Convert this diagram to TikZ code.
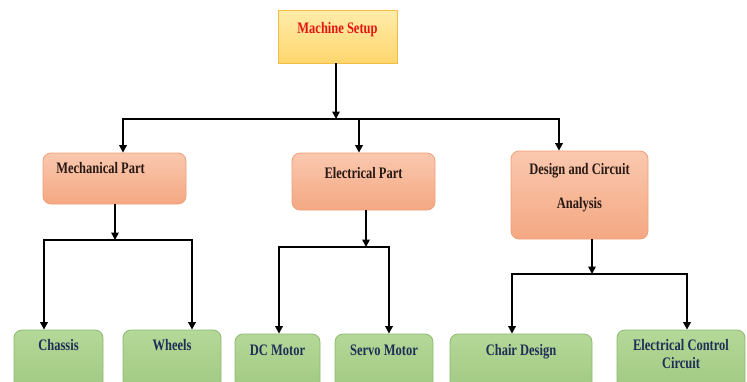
\documentclass[tikz,border=0pt]{standalone}
\usepackage{fontspec}
\setmainfont{Liberation Serif}[FakeStretch=0.78]
\usepackage{tikz}
\usetikzlibrary{arrows.meta,positioning,calc}
\definecolor{SetupTop}{RGB}{255,236,170}
\definecolor{SetupBot}{RGB}{255,214,110}
\definecolor{SetupEdge}{RGB}{240,190,70}
\definecolor{SetupRed}{RGB}{230,20,20}
\definecolor{PartTop}{RGB}{250,200,175}
\definecolor{PartBot}{RGB}{244,168,130}
\definecolor{PartEdge}{RGB}{240,160,120}
\definecolor{PartText}{RGB}{40,25,20}
\definecolor{LeafTop}{RGB}{180,216,152}
\definecolor{LeafBot}{RGB}{160,200,128}
\definecolor{LeafEdge}{RGB}{140,185,110}
\definecolor{LeafText}{RGB}{31,46,86}
\begin{document}
\begin{tikzpicture}[x=1pt,y=-1pt,>=Latex,every node/.style={font=\fontsize{16}{18}\selectfont\bfseries,inner ysep=2pt,text height=11pt}]
\tikzset{topbox/.style={draw=SetupEdge,top color=SetupTop,bottom color=SetupBot,text=SetupRed,line width=0.8pt},partbox/.style={draw=PartEdge,top color=PartTop,bottom color=PartBot,text=PartText,rounded corners=8pt,line width=0.8pt,align=center},leafbox/.style={draw=LeafEdge,top color=LeafTop,bottom color=LeafBot,text=LeafText,rounded corners=8pt,line width=0.8pt,align=center},link/.style={line width=1.7pt},arr/.style={link,-{Triangle[width=7.5pt,length=7.5pt]}}}
\useasboundingbox (0,0) rectangle (747,381);
\clip (0,0) rectangle (747,381);
\node[topbox,minimum width=119,minimum height=53,text depth=18pt] (setup) at (337.5,36.5) {Machine Setup};
\node[partbox,minimum width=143,minimum height=51,text depth=21pt] (mech) at (114.5,178.5) {Mechanical Part\hspace*{28pt}};
\node[partbox,minimum width=143,minimum height=57,text depth=18pt] (elec) at (363.5,181.5) {Electrical Part};
\node[partbox,minimum width=137,minimum height=88,text height=45pt,text depth=18pt] (design) at (579.5,195) {Design and Circuit\\[16pt]Analysis};
\node[leafbox,minimum width=89,minimum height=65,text depth=35pt] (chassis) at (58.5,362.5) {Chassis};
\node[leafbox,minimum width=98,minimum height=65,text depth=35pt] (wheels) at (172,362.5) {Wheels};
\node[leafbox,minimum width=85,minimum height=61,text depth=29pt] (dcmotor) at (277.5,364.5) {DC Motor};
\node[leafbox,minimum width=98,minimum height=61,text depth=29pt] (servo) at (384,364.5) {Servo Motor};
\node[leafbox,minimum width=142,minimum height=61,text depth=29pt] (chair) at (521,364.5) {Chair Design};
\node[leafbox,minimum width=128,minimum height=65,text height=29pt,text depth=17pt] (ctrl) at (681,362.5) {Electrical Control\\Circuit};
% first level
\coordinate (j0) at (336,119);
\draw[arr] (setup.south -| j0) -- (j0);
\draw[arr] (j0) -| ([xshift=8.5]mech.north);
\draw[arr] (j0) -| ([xshift=-4.5]elec.north);
\draw[arr] (j0) -| ([xshift=-20.5]design.north);
% second level
\coordinate (j1) at (115,240);
\draw[arr] (mech.south -| j1) -- (j1);
\draw[arr] (j1) -| ([xshift=-14.5]chassis.north);
\draw[arr] (j1) -| ([xshift=20]wheels.north);
\coordinate (j2) at (366,247);
\draw[arr] (elec.south -| j2) -- (j2);
\draw[arr] (j2) -| ([xshift=1.5]dcmotor.north);
\draw[arr] (j2) -| ([xshift=5]servo.north);
\coordinate (j3) at (592,274);
\draw[arr] (design.south -| j3) -- (j3);
\draw[arr] (j3) -| ([xshift=-9]chair.north);
\draw[arr] (j3) -| ([xshift=6]ctrl.north);
\end{tikzpicture}
\end{document}
